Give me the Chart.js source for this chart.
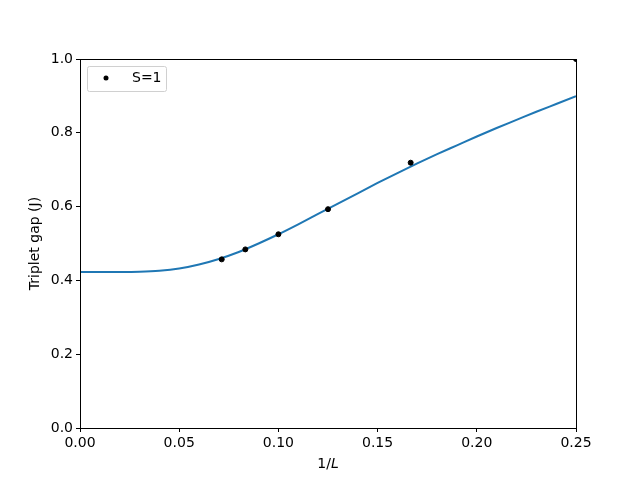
<!DOCTYPE html>
<html lang="en">
<head>
    <meta charset="UTF-8">
    <title>Triplet gap vs 1/L</title>
    <script src="https://cdn.jsdelivr.net/npm/chart.js"></script>
    <style>
        html, body { margin: 0; padding: 0; background: #fff; }
        #wrap { width: 640px; height: 480px; }
    </style>
</head>
<body>
    <div id="wrap"><canvas id="gapChart" width="640" height="480"></canvas></div>
    <script>
    // measured points, x = 1/L
    const invL = [1 / 14, 1 / 12, 1 / 10, 1 / 8, 1 / 6, 1 / 4];
    const gapS1 = [0.457, 0.484, 0.525, 0.593, 0.719, 1.0];

    // fitted curve
    const fitX = [0, 0.01, 0.02, 0.03, 0.04, 0.05, 0.06, 0.07, 0.08, 0.09, 0.10, 0.11, 0.12, 0.13,
                  0.14, 0.15, 0.16, 0.17, 0.18, 0.19, 0.20, 0.21, 0.22, 0.23, 0.24, 0.25];
    const fitY = [0.423, 0.423, 0.423, 0.4235, 0.426, 0.432, 0.443, 0.458, 0.477, 0.500, 0.525, 0.552,
                  0.580, 0.608, 0.636, 0.664, 0.691, 0.717, 0.742, 0.766, 0.790, 0.813, 0.835, 0.857,
                  0.878, 0.899];

    const xTicks = [0, 0.05, 0.10, 0.15, 0.20, 0.25];
    const yTicks = [0, 0.2, 0.4, 0.6, 0.8, 1.0];

    const FONT = '"DejaVu Sans", sans-serif';

    const frame = {
        id: 'frame',
        afterDraw(chart) {
            const { ctx, chartArea: a } = chart;
            ctx.save();
            ctx.strokeStyle = '#000';
            ctx.lineWidth = 1;
            ctx.strokeRect(Math.round(a.left) + 0.5, Math.round(a.top) + 0.5,
                Math.round(a.right - a.left), Math.round(a.bottom - a.top));

            // legend
            ctx.fillStyle = '#fff';
            ctx.strokeStyle = '#d0d0d0';
            ctx.beginPath();
            ctx.roundRect(a.left + 7.5, a.top + 7.5, 79, 25, 2);
            ctx.fill();
            ctx.stroke();
            ctx.fillStyle = '#000';
            ctx.beginPath();
            ctx.arc(a.left + 26, a.top + 19, 2.5, 0, Math.PI * 2);
            ctx.fill();
            ctx.font = '14px ' + FONT;
            ctx.textBaseline = 'middle';
            ctx.textAlign = 'left';
            ctx.fillText('S=1', a.left + 52, a.top + 19);

            // axis titles
            const cx = (a.left + a.right) / 2;
            const t1 = '1/';
            ctx.font = '14px ' + FONT;
            const w1 = ctx.measureText(t1).width;
            ctx.font = 'italic 14px ' + FONT;
            const w2 = ctx.measureText('L').width;
            let x0 = cx - (w1 + w2) / 2;
            ctx.font = '14px ' + FONT;
            ctx.fillText(t1, x0, 464);
            ctx.font = 'italic 14px ' + FONT;
            ctx.fillText('L', x0 + w1, 464);

            ctx.translate(35, (a.top + a.bottom) / 2);
            ctx.rotate(-Math.PI / 2);
            ctx.font = '14px ' + FONT;
            ctx.textAlign = 'center';
            ctx.fillText('Triplet gap (J)', 0, 0);
            ctx.restore();
        }
    };

    new Chart(document.getElementById('gapChart'), {
        type: 'scatter',
        data: {
            datasets: [
                {
                    label: 'fit',
                    data: fitX.map((x, i) => ({ x: x, y: fitY[i] })),
                    showLine: true,
                    borderColor: '#1f77b4',
                    borderWidth: 2,
                    pointRadius: 0,
                    cubicInterpolationMode: 'monotone',
                    clip: 0,
                    order: 2
                },
                {
                    label: 'S=1',
                    data: invL.map((x, i) => ({ x: x, y: gapS1[i] })),
                    backgroundColor: '#000',
                    borderColor: '#000',
                    pointRadius: 2.5,
                    clip: 0,
                    order: 1
                }
            ]
        },
        options: {
            responsive: false,
            animation: false,
            layout: { padding: { left: 0, right: 64, top: 59, bottom: 0 } },
            plugins: { legend: { display: false }, tooltip: { enabled: false } },
            scales: {
                x: {
                    type: 'linear',
                    min: 0, max: 0.25,
                    afterBuildTicks: s => { s.ticks = xTicks.map(v => ({ value: v })); },
                    afterFit: s => { s.height = 52; },
                    border: { display: false },
                    grid: { drawOnChartArea: false, tickLength: 4, color: '#000' },
                    ticks: {
                        color: '#000', padding: 3, maxRotation: 0,
                        font: { family: FONT, size: 14 },
                        callback: v => v.toFixed(2)
                    }
                },
                y: {
                    type: 'linear',
                    min: 0, max: 1,
                    afterBuildTicks: s => { s.ticks = yTicks.map(v => ({ value: v })); },
                    afterFit: s => { s.width = 80; },
                    border: { display: false },
                    grid: { drawOnChartArea: false, tickLength: 4, color: '#000' },
                    ticks: {
                        color: '#000', padding: 3,
                        font: { family: FONT, size: 14 },
                        callback: v => v.toFixed(1)
                    }
                }
            }
        },
        plugins: [frame]
    });
    </script>
</body>
</html>
